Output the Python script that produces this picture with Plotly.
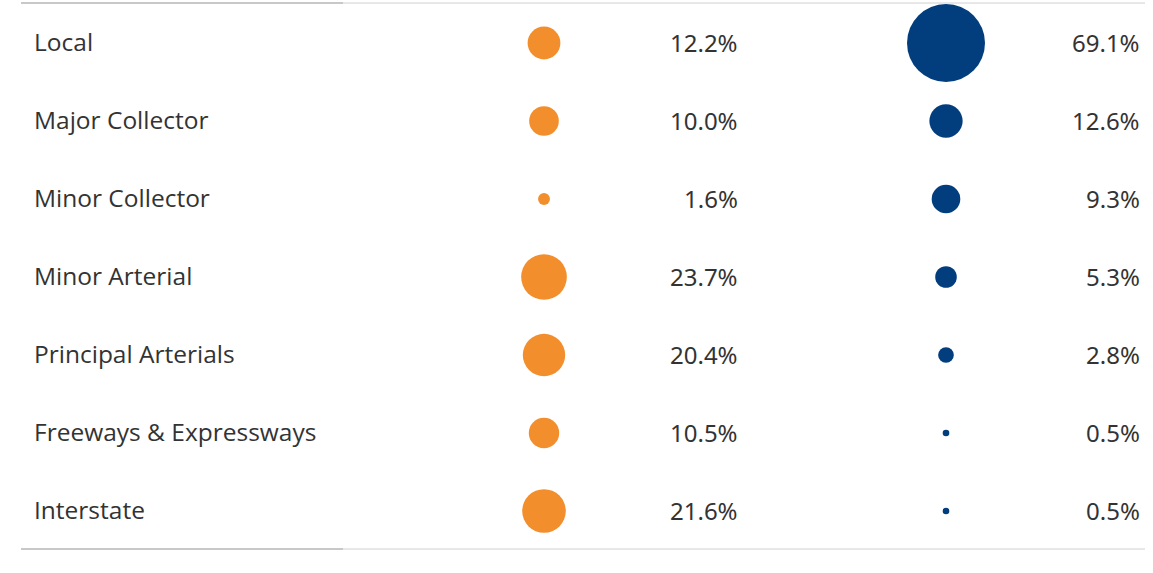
import plotly.graph_objects as go

categories = ["Local", "Major Collector", "Minor Collector", "Minor Arterial",
              "Principal Arterials", "Freeways & Expressways", "Interstate"]
orange_pct = [12.2, 10.0, 1.6, 23.7, 20.4, 10.5, 21.6]
blue_pct = [69.1, 12.6, 9.3, 5.3, 2.8, 0.5, 0.5]

ORANGE = "#F28E2B"
BLUE = "#023E7D"
TEXT = "#333333"

W, H = 1153, 573
ROW_H = 78
FIRST_CENTER = 43
MAX_DIAM = 78
sizeref = 2.0 * max(blue_pct + orange_pct) / (MAX_DIAM ** 2)

X_LABEL = 32
X_ORANGE = 544
X_ORANGE_TXT = 740
X_BLUE = 946
X_BLUE_TXT = 1142

idx = list(range(len(categories)))

fig = go.Figure()
fig.add_trace(go.Scatter(
    x=[X_ORANGE] * len(idx), y=idx, mode="markers",
    marker=dict(size=orange_pct, sizemode="area", sizeref=sizeref, opacity=1,
                color=ORANGE, line=dict(width=0)),
    hoverinfo="skip", showlegend=False))
fig.add_trace(go.Scatter(
    x=[X_BLUE] * len(idx), y=idx, mode="markers",
    marker=dict(size=blue_pct, sizemode="area", sizeref=sizeref, opacity=1,
                color=BLUE, line=dict(width=0)),
    hoverinfo="skip", showlegend=False))

annotations = []
for i, cat in enumerate(categories):
    annotations.append(dict(x=X_LABEL, y=i, text=cat, showarrow=False,
                            xanchor="left", yanchor="middle", yshift=2,
                            font=dict(family="Open Sans", size=24.5, color=TEXT)))
    annotations.append(dict(x=X_ORANGE_TXT, y=i, text=f"{orange_pct[i]:.1f}%",
                            showarrow=False, xanchor="right", yanchor="middle", yshift=1,
                            font=dict(family="Noto Sans", size=24, color=TEXT)))
    annotations.append(dict(x=X_BLUE_TXT, y=i, text=f"{blue_pct[i]:.1f}%",
                            showarrow=False, xanchor="right", yanchor="middle", yshift=1,
                            font=dict(family="Noto Sans", size=24, color=TEXT)))

y_top = (3 - FIRST_CENTER) / ROW_H
y_bot = (549 - FIRST_CENTER) / ROW_H
shapes = []
for yy in (y_top, y_bot):
    shapes.append(dict(type="line", xref="x", yref="y", x0=343, x1=1145, y0=yy, y1=yy,
                       line=dict(color="#D0D0D0", width=1)))
    shapes.append(dict(type="line", xref="x", yref="y", x0=21, x1=343, y0=yy, y1=yy,
                       line=dict(color="#C8C8C8", width=2)))

fig.update_layout(
    width=W, height=H,
    margin=dict(l=0, r=0, t=0, b=0),
    paper_bgcolor="white", plot_bgcolor="white",
    xaxis=dict(range=[0, W], visible=False, fixedrange=True),
    yaxis=dict(range=[(H - FIRST_CENTER) / ROW_H, (0 - FIRST_CENTER) / ROW_H],
               visible=False, fixedrange=True),
    annotations=annotations, shapes=shapes,
)

fig.write_html("out.html",
               config={"displayModeBar": False},
               post_script="document.body.style.margin='0';document.body.style.overflow='hidden';")
